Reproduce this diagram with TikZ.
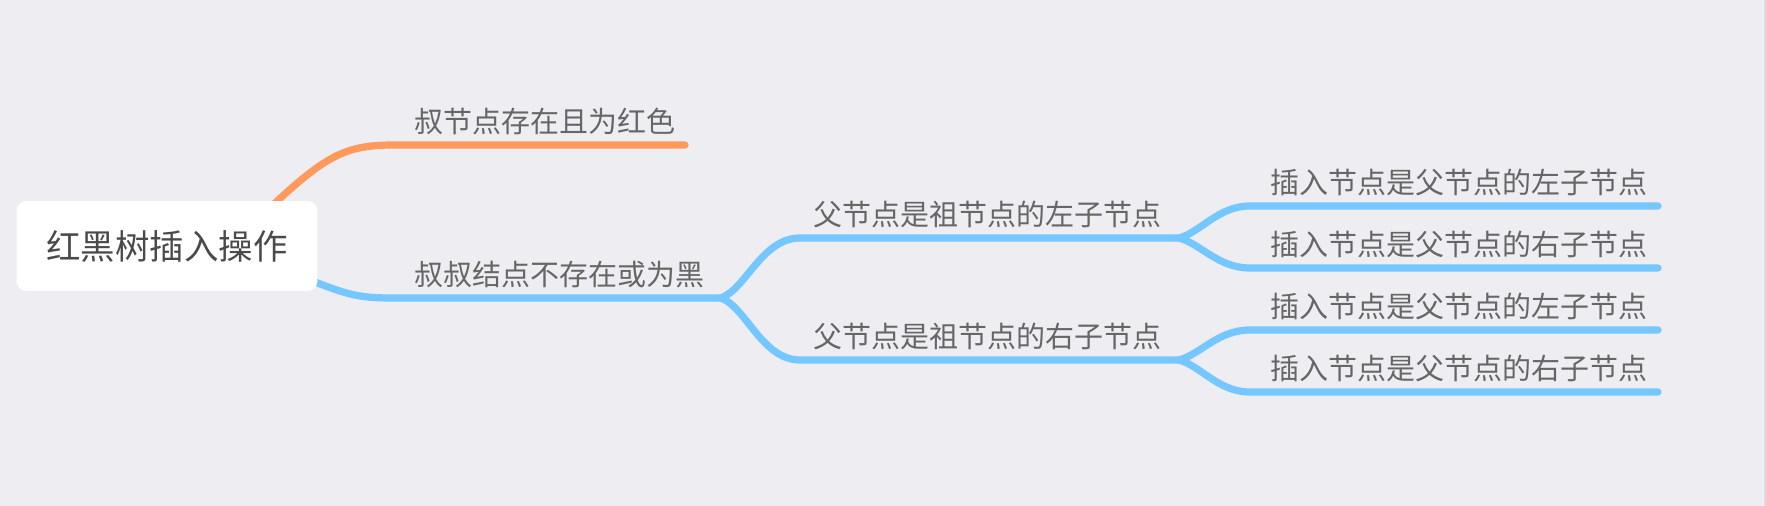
\documentclass[tikz,border=0pt]{standalone}
\usepackage{fontspec}
\setmainfont{Noto Sans CJK SC}
\usetikzlibrary{backgrounds}

\definecolor{bgcol}{HTML}{EEEDF2}
\definecolor{edgecol}{HTML}{DDDDE2}
\definecolor{orangecol}{HTML}{FF9A5C}
\definecolor{bluecol}{HTML}{74C7FF}
\definecolor{txtgray}{HTML}{666666}
\definecolor{roottxt}{HTML}{4A4A4A}

\begin{document}
\begin{tikzpicture}[x=0.02cm,y=-0.02cm,
   lbl/.style={anchor=base west,inner sep=0,text=txtgray,
      font=\fontsize{16.5}{18}\selectfont},
   twig/.style={line width=4.1pt,line cap=round,draw=bluecol}]
   \useasboundingbox (0,0) rectangle (1766,506);

   % central topic
   \node[fill=white,rounded corners=0.2cm,minimum width=6.02cm,
      minimum height=1.8cm,inner sep=0,text=roottxt,
      font=\fontsize{19.6}{22}\selectfont] (root) at (167,246) {红黑树插入操作};

   % first level
   \coordinate (s1) at (394,145); \coordinate (e1) at (685,145);
   \node[lbl] (n1) at (414,133) {叔节点存在且为红色};
   \coordinate (s2) at (394,298); \coordinate (e2) at (721,298);
   \node[lbl] (n2) at (414,286) {叔叔结点不存在或为黑};

   % second level
   \coordinate (s3) at (800,238); \coordinate (e3) at (1179,238);
   \node[lbl] (n3) at (813,226) {父节点是祖节点的左子节点};
   \coordinate (s4) at (800,360); \coordinate (e4) at (1179,360);
   \node[lbl] (n4) at (813,348) {父节点是祖节点的右子节点};

   % third level
   \coordinate (s5) at (1250,206); \coordinate (e5) at (1658,206);
   \node[lbl] (n5) at (1270,194) {插入节点是父节点的左子节点};
   \coordinate (s6) at (1250,268); \coordinate (e6) at (1658,268);
   \node[lbl] (n6) at (1270,256) {插入节点是父节点的右子节点};
   \coordinate (s7) at (1250,330); \coordinate (e7) at (1658,330);
   \node[lbl] (n7) at (1270,318) {插入节点是父节点的左子节点};
   \coordinate (s8) at (1250,392); \coordinate (e8) at (1658,392);
   \node[lbl] (n8) at (1270,380) {插入节点是父节点的右子节点};

   \begin{scope}[on background layer]
   \fill[bgcol] (0,0) rectangle (1766,506);
   \fill[edgecol] (1764,0) rectangle (1766,506);

   \draw[line width=4.1pt,line cap=round,draw=orangecol]
   ([shift={(-55,14)}]root.north east) .. controls (325,155) and (345,145) .. (s1) -- (e1);
   \draw[twig]
   ([shift={(-12,-13)}]root.south east) .. controls (350,296) and (360,298) .. (s2) -- (e2);

   \draw[twig] (e2) .. controls +(25,-9) and +(-38,0) .. (s3) -- (e3);
   \draw[twig] (e2) .. controls +(25,9) and +(-38,0) .. (s4) -- (e4);

   \draw[twig] (e3) .. controls +(22,-6) and +(-32,0) .. (s5) -- (e5);
   \draw[twig] (e3) .. controls +(22,6) and +(-32,0) .. (s6) -- (e6);
   \draw[twig] (e4) .. controls +(22,-6) and +(-32,0) .. (s7) -- (e7);
   \draw[twig] (e4) .. controls +(22,6) and +(-32,0) .. (s8) -- (e8);
   \end{scope}
\end{tikzpicture}
\end{document}
